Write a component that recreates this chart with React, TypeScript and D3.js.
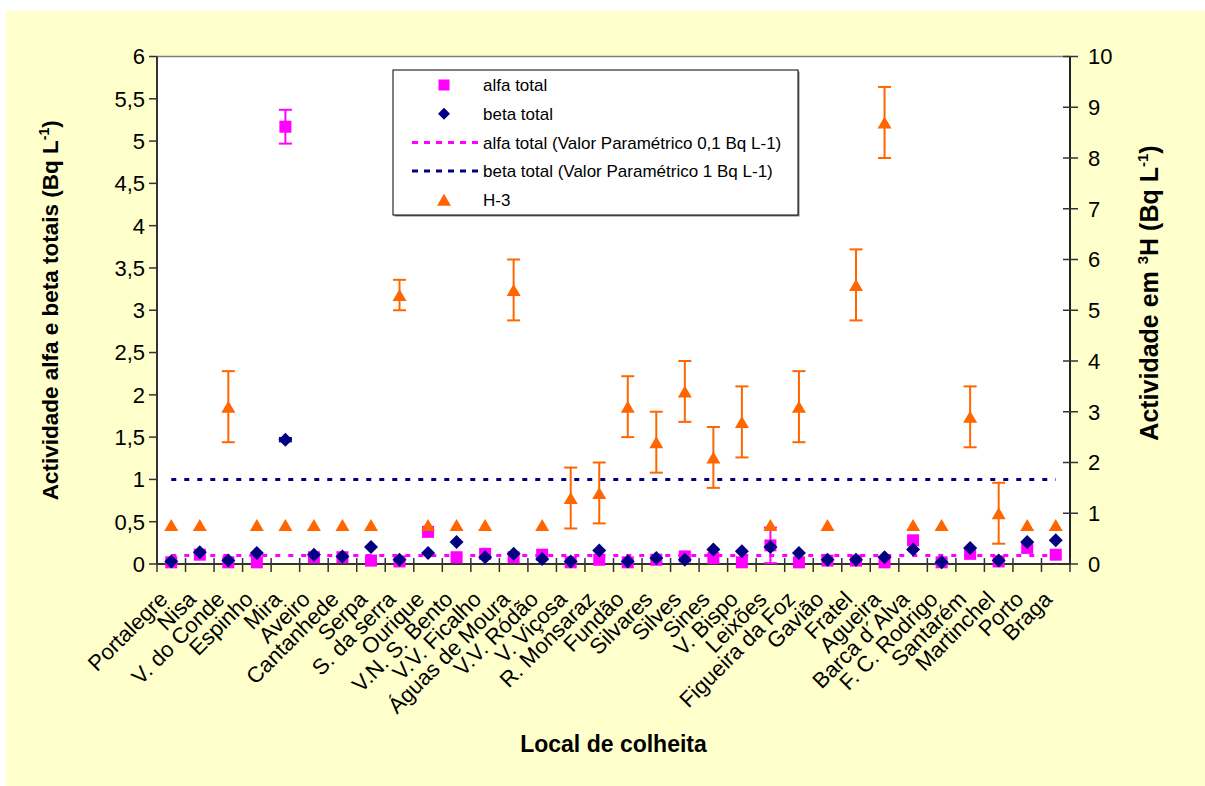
import React from "react";
import * as d3 from "d3";

const categories = [
  "Portalegre", "Nisa", "V. do Conde", "Espinho", "Mira", "Aveiro", "Cantanhede", "Serpa",
  "S. da serra", "Ourique", "V.N. S. Bento", "V.V. Ficalho", "Águas de Moura", "V.V. Ródão",
  "V. Viçosa", "R. Monsaraz", "Fundão", "Silvares", "Silves", "Sines", "V. Bispo", "Leixões",
  "Figueira da Foz", "Gavião", "Fratel", "Agueira", "Barca d´Alva", "F. C. Rodrigo", "Santarém",
  "Martinchel", "Porto", "Braga",
];

const alfaTotal = [
  0.02, 0.11, 0.02, 0.02, 5.17, 0.08, 0.08, 0.04, 0.03, 0.38, 0.08, 0.12, 0.08, 0.11,
  0.02, 0.05, 0.02, 0.05, 0.09, 0.07, 0.02, 0.22, 0.02, 0.04, 0.04, 0.02, 0.28, 0.02,
  0.12, 0.03, 0.19, 0.11,
];
const alfaErr = [
  0, 0, 0, 0, 0.2, 0, 0, 0, 0, 0, 0, 0, 0, 0, 0, 0, 0, 0, 0, 0, 0, 0.21, 0, 0, 0, 0, 0, 0, 0, 0, 0, 0,
];

const betaTotal = [
  0.03, 0.14, 0.04, 0.13, 1.47, 0.11, 0.09, 0.2, 0.05, 0.13, 0.26, 0.08, 0.12, 0.06,
  0.03, 0.16, 0.03, 0.07, 0.05, 0.17, 0.15, 0.2, 0.13, 0.05, 0.05, 0.08, 0.17, 0.02,
  0.19, 0.04, 0.26, 0.28,
];
const betaErr = [
  0, 0, 0, 0, 0.02, 0, 0, 0, 0, 0, 0, 0, 0, 0, 0, 0, 0, 0, 0, 0, 0, 0, 0, 0, 0, 0, 0, 0, 0, 0, 0, 0,
];

const h3 = [
  0.77, 0.77, 3.1, 0.77, 0.77, 0.77, 0.77, 0.77, 5.3, 0.77, 0.77, 0.77, 5.4, 0.77,
  1.3, 1.4, 3.1, 2.4, 3.4, 2.1, 2.8, 0.77, 3.1, 0.77, 5.5, 8.7, 0.77, 0.77,
  2.9, 1.0, 0.77, 0.77,
];
const h3Err = [
  0, 0, 0.7, 0, 0, 0, 0, 0, 0.3, 0, 0, 0, 0.6, 0,
  0.6, 0.6, 0.6, 0.6, 0.6, 0.6, 0.7, 0, 0.7, 0, 0.7, 0.7, 0, 0,
  0.6, 0.6, 0, 0,
];

const leftTicks = [0, 0.5, 1, 1.5, 2, 2.5, 3, 3.5, 4, 4.5, 5, 5.5, 6];
const rightTicks = [0, 1, 2, 3, 4, 5, 6, 7, 8, 9, 10];
const alfaParam = 0.1;
const betaParam = 1;

const legendItems = [
  { label: "alfa total", kind: "square" },
  { label: "beta total", kind: "diamond" },
  { label: "alfa total (Valor Paramétrico 0,1 Bq L-1)", kind: "dashMagenta" },
  { label: "beta total (Valor Paramétrico 1 Bq L-1)", kind: "dashNavy" },
  { label: "H-3", kind: "triangle" },
];

const MAGENTA = "#FF00FF";
const NAVY = "#000080";
const ORANGE = "#FF6600";
const FONT = "'Liberation Sans', Arial, sans-serif";

const W = 1205;
const H = 786;
const L = 157;
const R = 1070;
const T = 56.5;
const B = 564;

function Square({ x, y, s = 12 }: { x: number; y: number; s?: number }) {
  return <rect x={x - s / 2} y={y - s / 2} width={s} height={s} fill={MAGENTA} />;
}
function Diamond({ x, y, r = 7 }: { x: number; y: number; r?: number }) {
  return <path d={`M${x},${y - r}L${x + r},${y}L${x},${y + r}L${x - r},${y}Z`} fill={NAVY} />;
}
function Triangle({ x, y, w = 14, h = 12 }: { x: number; y: number; w?: number; h?: number }) {
  return <path d={`M${x},${y - h / 2}L${x + w / 2},${y + h / 2}L${x - w / 2},${y + h / 2}Z`} fill={ORANGE} />;
}
function ErrBar({ x, y1, y2, color }: { x: number; y1: number; y2: number; color: string }) {
  return (
    <g stroke={color} strokeWidth={2}>
      <line x1={x} x2={x} y1={y1} y2={y2} />
      <line x1={x - 6.5} x2={x + 6.5} y1={y1} y2={y1} />
      <line x1={x - 6.5} x2={x + 6.5} y1={y2} y2={y2} />
    </g>
  );
}

export default function App() {
  const x = d3.scaleBand<string>().domain(categories).range([L, R]).padding(0);
  const cx = (c: string) => (x(c) as number) + x.bandwidth() / 2;
  const yL = d3.scaleLinear().domain([0, 6]).range([B, T]);
  const yR = d3.scaleLinear().domain([0, 10]).range([B, T]);
  const fmt = (v: number) => String(v).replace(".", ",");
  const boundaries = d3.range(categories.length + 1).map((i) => L + i * x.bandwidth());
  const x0 = cx(categories[0]);
  const x1 = cx(categories[categories.length - 1]);

  const legX = 393, legY = 70, legW = 405, legH = 145;
  const legRowY = (i: number) => legY + 15 + i * 28.7;

  return (
    <div style={{ position: "absolute", left: 0, top: 0 }}>
      <svg width={W} height={H} style={{ display: "block" }} fontFamily={FONT}>
        <rect x={0} y={0} width={W} height={H} fill="#ffffff" />
        <rect x={6} y={11} width={W - 6} height={H - 11} fill="#FFFFCC" />
        <rect x={L} y={T} width={R - L} height={B - T} fill="#ffffff" />
        <line x1={L} x2={R} y1={T} y2={T} stroke="#808080" strokeWidth={1.5} />

        {/* param lines */}
        <line x1={x0} x2={x1} y1={yL(alfaParam)} y2={yL(alfaParam)} stroke={MAGENTA} strokeWidth={3} strokeDasharray="5 8" />
        <line x1={x0} x2={x1} y1={yL(betaParam)} y2={yL(betaParam)} stroke={NAVY} strokeWidth={3} strokeDasharray="5 8" />

        {/* axes */}
        <line x1={L} x2={L} y1={T} y2={B} stroke="#333" strokeWidth={2} />
        <line x1={R} x2={R} y1={T} y2={B} stroke="#222" strokeWidth={2} />
        <line x1={L} x2={R} y1={B} y2={B} stroke="#333" strokeWidth={2} />
        {boundaries.map((bx, i) => (
          <line key={"xt" + i} x1={bx} x2={bx} y1={B - 6} y2={B + 8} stroke="#333" strokeWidth={1.5} />
        ))}
        {leftTicks.map((v) => (
          <g key={"lt" + v}>
            <line x1={L - 8} x2={L} y1={yL(v)} y2={yL(v)} stroke="#333" strokeWidth={1.5} />
            <text x={L - 12} y={yL(v)} dy="0.36em" textAnchor="end" fontSize={22} fill="#000">
              {fmt(v)}
            </text>
          </g>
        ))}
        {rightTicks.map((v) => (
          <g key={"rt" + v}>
            <line x1={R - 7} x2={R + 8} y1={yR(v)} y2={yR(v)} stroke="#333" strokeWidth={1.5} />
            <text x={R + 18} y={yR(v)} dy="0.36em" textAnchor="start" fontSize={22} fill="#000">
              {fmt(v)}
            </text>
          </g>
        ))}
        {categories.map((c) => (
          <text
            key={"xl" + c}
            transform={`translate(${cx(c) - 8},${595}) rotate(-45)`}
            textAnchor="end"
            fontSize={22}
            dy="0.36em"
            fill="#000"
          >
            {c}
          </text>
        ))}

        {/* error bars */}
        {categories.map((c, i) =>
          alfaErr[i] > 0 ? (
            <ErrBar key={"ae" + i} x={cx(c)} y1={yL(alfaTotal[i] + alfaErr[i])} y2={yL(Math.max(0, alfaTotal[i] - alfaErr[i]))} color={MAGENTA} />
          ) : null
        )}
        {categories.map((c, i) =>
          betaErr[i] > 0 ? (
            <ErrBar key={"be" + i} x={cx(c)} y1={yL(betaTotal[i] + betaErr[i])} y2={yL(betaTotal[i] - betaErr[i])} color={NAVY} />
          ) : null
        )}
        {categories.map((c, i) =>
          h3Err[i] > 0 ? (
            <ErrBar key={"he" + i} x={cx(c)} y1={yR(h3[i] + h3Err[i])} y2={yR(h3[i] - h3Err[i])} color={ORANGE} />
          ) : null
        )}

        {/* markers */}
        {categories.map((c, i) => <Square key={"sq" + i} x={cx(c)} y={yL(alfaTotal[i])} />)}
        {categories.map((c, i) => <Diamond key={"dm" + i} x={cx(c)} y={yL(betaTotal[i])} />)}
        {categories.map((c, i) => <Triangle key={"tr" + i} x={cx(c)} y={yR(h3[i])} />)}

        {/* axis titles */}
        <text transform={`translate(58,${(T + B) / 2}) rotate(-90)`} textAnchor="middle" fontSize={22.5} fontWeight="bold" fill="#000">
          Actividade alfa e beta totais (Bq L<tspan dy="-9" fontSize={14}>-1</tspan><tspan dy="9">)</tspan>
        </text>
        <text transform={`translate(1158,293) rotate(-90)`} textAnchor="middle" fontSize={25} fontWeight="bold" fill="#000">
          Actividade em <tspan dy="-10" fontSize={15}>3</tspan><tspan dy="10">H (Bq L</tspan><tspan dy="-10" fontSize={15}>-1</tspan><tspan dy="10">)</tspan>
        </text>
        <text x={(L + R) / 2} y={752} textAnchor="middle" fontSize={23} fontWeight="bold" fill="#000">
          Local de colheita
        </text>

        {/* legend */}
        <rect x={legX + 1.5} y={legY + 1.5} width={legW} height={legH} fill="#808080" />
        <rect x={legX} y={legY} width={legW} height={legH} fill="#fff" stroke="#000" strokeWidth={1} />
        {legendItems.map((it, i) => {
          const yy = legRowY(i);
          const mx = 444;
          let sym: React.ReactNode = null;
          if (it.kind === "square") sym = <Square x={mx} y={yy} s={11} />;
          else if (it.kind === "diamond") sym = <Diamond x={mx} y={yy} r={6} />;
          else if (it.kind === "triangle") sym = <Triangle x={mx} y={yy} />;
          else
            sym = (
              <line x1={412} x2={478} y1={yy} y2={yy} stroke={it.kind === "dashMagenta" ? MAGENTA : NAVY} strokeWidth={3} strokeDasharray="6 6" />
            );
          return (
            <g key={"lg" + i}>
              {sym}
              <text x={483} y={yy} dy="0.36em" fontSize={17} fill="#000">
                {it.label}
              </text>
            </g>
          );
        })}
      </svg>
    </div>
  );
}
